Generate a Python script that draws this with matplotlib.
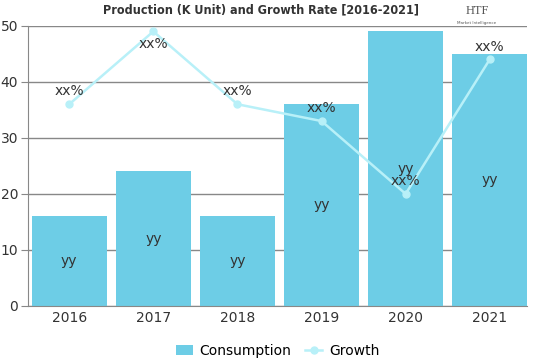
import numpy as np
import matplotlib.pyplot as plt

years = ['2016', '2017', '2018', '2019', '2020', '2021']
consumption = [16, 24, 16, 36, 49, 45]
growth = [36, 49, 36, 33, 20, 44]
bar_labels = ['yy'] * 6
growth_labels = ['xx%'] * 6

fig = plt.figure(figsize=(5.39, 3.59), dpi=100)
ax = fig.add_axes([0.052, 0.148, 0.926, 0.78])

x = np.arange(len(years))
ax.bar(x, consumption, width=0.89, color='#6dcde6', label='Consumption', zorder=2)
ax.plot(x, growth, color='#b8f0f8', lw=1.8, marker='o', ms=5, label='Growth', zorder=3)

for i in range(len(years)):
    ax.text(x[i], consumption[i] / 2, bar_labels[i], ha='center', va='center',
            fontsize=10, color='#333333', zorder=4)
    # label above the point, unless it would leave the plot
    dy = 2.3 if growth[i] + 4 < 50 else -2.3
    ax.text(x[i], growth[i] + dy, growth_labels[i], ha='center', va='center',
            fontsize=10, color='#333333', zorder=4)

ax.set_xlim(-0.49, 5.445)
ax.set_ylim(0, 50)
ax.set_yticks([0, 10, 20, 30, 40, 50])
ax.set_xticks(x)
ax.set_xticklabels(years)
ax.yaxis.grid(True, color='#888888', lw=1, zorder=0)
ax.set_axisbelow(True)
for s in ['top', 'right']:
    ax.spines[s].set_visible(False)
ax.spines['left'].set_color('#888888')
ax.spines['bottom'].set_color('#888888')
ax.tick_params(axis='y', length=5, color='#888888', labelsize=10, labelcolor='#333333', pad=2)
ax.tick_params(axis='x', length=0, labelsize=10, labelcolor='#333333', pad=4)

fig.text(0.485, 0.972, 'Production (K Unit) and Growth Rate [2016-2021]', ha='center', va='center',
         fontsize=9, fontweight='bold', fontstretch='condensed', color='#333333',
         family=['Liberation Sans Narrow', 'DejaVu Sans'])

# logo
fig.text(0.885, 0.97, 'HTF', ha='center', va='center', fontsize=9, color='#555555',
         family=['Liberation Serif', 'DejaVu Serif'])
fig.text(0.885, 0.937, 'Market Intelligence', ha='center', va='center', fontsize=3, color='#555555')

ax.legend(loc='upper center', bbox_to_anchor=(0.5, -0.09), ncol=2, frameon=False,
          fontsize=10, handlelength=1.2, columnspacing=1.0, handletextpad=0.5)
h, l = ax.get_legend_handles_labels()
ax.legend(h[::-1], l[::-1], loc='upper center', bbox_to_anchor=(0.5, -0.09), ncol=2,
          frameon=False, fontsize=10, handlelength=1.2, columnspacing=1.0, handletextpad=0.5)

fig.savefig('out.png', dpi=100)
